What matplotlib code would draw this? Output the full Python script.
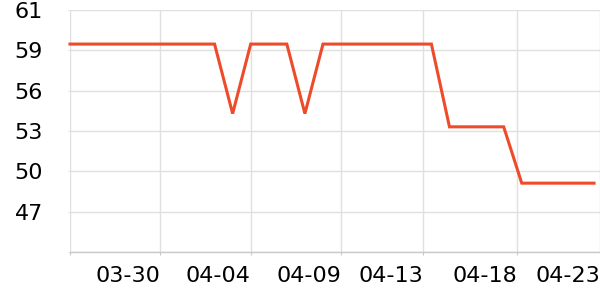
import matplotlib
matplotlib.use("Agg")
import matplotlib.pyplot as plt

# daily values, 30 points
values = [59.0, 59.0, 59.0, 59.0, 59.0, 59.0, 59.0, 59.0, 59.0, 54.0,
          59.0, 59.0, 59.0, 54.0, 59.0, 59.0, 59.0, 59.0, 59.0, 59.0,
          59.0, 53.05, 53.05, 53.05, 53.05, 49.0, 49.0, 49.0, 49.0, 49.0]

x_tick_pos = [0, 5, 10, 15, 19.53, 24.73, 29.33]
x_tick_labels = ["", "03-30", "04-04", "04-09", "04-13", "04-18", "04-23"]

y_tick_pos = [44.05, 46.95, 49.85, 52.75, 55.65, 58.55, 61.45]
y_tick_labels = ["", "47", "50", "53", "56", "59", "61"]

fig = plt.figure(figsize=(6, 3), dpi=100)
ax = fig.add_axes([70 / 600, 48 / 300, 530 / 600, 242 / 300])

ax.plot(range(len(values)), values, color="#ee4b2b", linewidth=2.2,
        solid_joinstyle="miter", zorder=3, clip_on=False)

ax.set_xlim(0, 29.33)
ax.set_ylim(y_tick_pos[0], y_tick_pos[-1])

ax.set_xticks(x_tick_pos)
ax.set_xticklabels(x_tick_labels, fontsize=16, ha="right")
ax.set_yticks(y_tick_pos)
ax.set_yticklabels(y_tick_labels, fontsize=16)

ax.grid(True, color="#e0e0e0", linewidth=1)
ax.set_axisbelow(True)
for side in ["top", "right", "left"]:
    ax.spines[side].set_visible(False)
ax.spines["bottom"].set_color("#c8c8c8")
ax.spines["bottom"].set_linewidth(1)

ax.tick_params(axis="x", length=2, color="#c8c8c8", pad=8, labelcolor="black")
ax.tick_params(axis="y", length=1.5, color="#e0e0e0", pad=18, labelcolor="black")

fig.savefig("out.png", dpi=100)
